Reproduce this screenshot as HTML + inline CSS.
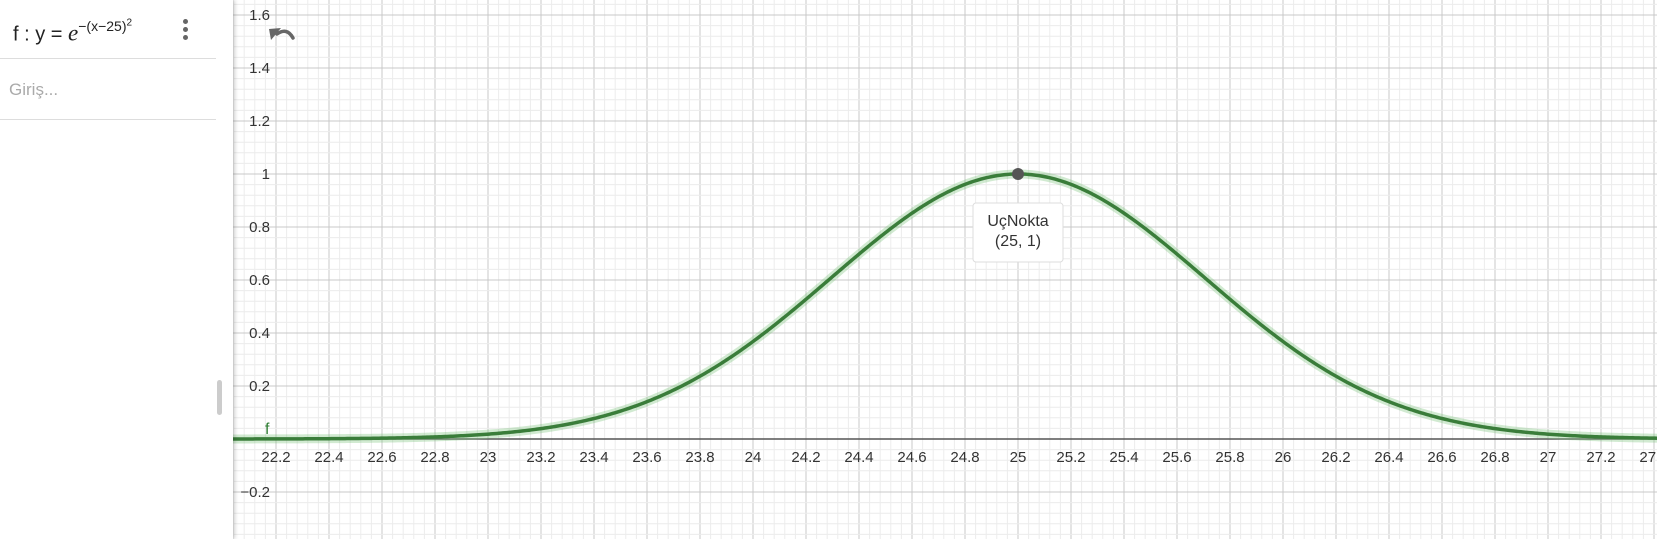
<!DOCTYPE html>
<html><head><meta charset="utf-8"><style>
html,body{margin:0;padding:0;width:1657px;height:539px;overflow:hidden;background:#fff;font-family:"Liberation Sans",sans-serif}
#panel{position:absolute;left:0;top:0;width:233px;height:539px;background:#fff;box-shadow:2px 0 4px rgba(0,0,0,0.18);z-index:2}
</style></head><body>
<div id="panel">
  <div style="position:absolute;left:0;top:0;width:216px;height:58px;border-bottom:1px solid #ddd">
    <div style="position:absolute;left:13px;top:19px;font-size:20px;color:#222;white-space:nowrap">f : y = <i style="font-family:'Liberation Serif',serif;font-size:23px">e</i><sup style="font-size:14px;position:relative;top:-2px">−(x−25)<sup style="font-size:10px">2</sup></sup></div>
    <div style="position:absolute;left:183px;top:19px;width:6px">
      <div style="width:5px;height:5px;border-radius:50%;background:#666;margin-bottom:3px"></div>
      <div style="width:5px;height:5px;border-radius:50%;background:#666;margin-bottom:3px"></div>
      <div style="width:5px;height:5px;border-radius:50%;background:#666"></div>
    </div>
  </div>
  <div style="position:absolute;left:0;top:59px;width:216px;height:60px;border-bottom:1px solid #ddd">
    <div style="position:absolute;left:9px;top:21px;font-size:17px;color:#aaa">Giriş...</div>
  </div>
  <div style="position:absolute;left:217px;top:380px;width:5px;height:35px;background:#ccc;border-radius:3px"></div>
</div>
<svg id="chart" width="1657" height="539" style="position:absolute;left:0;top:0"></svg>
<script>
const mu=[25];
const peakLabel=["UçNokta","(25, 1)"];
const xTicks=[22.2,22.4,22.6,22.8,23,23.2,23.4,23.6,23.8,24,24.2,24.4,24.6,24.8,25,25.2,25.4,25.6,25.8,26,26.2,26.4,26.6,26.8,27,27.2,27.4];
const yTicks=[-0.2,0.2,0.4,0.6,0.8,1,1.2,1.4,1.6];
const NS="http://www.w3.org/2000/svg";
const svg=document.getElementById('chart');
const S=265, X0=1018, Y0=439;
const sx=v=>X0+(v-25)*S, sy=v=>Y0-v*S;
function el(t,a,p){const e=document.createElementNS(NS,t);for(const k in a)e.setAttribute(k,a[k]);(p||svg).appendChild(e);return e;}
const xmin=(233-X0)/S+25, xmax=(1657-X0)/S+25, ymin=-(539-Y0)/S, ymax=Y0/S;
const grid=el('g',{});


for(let i=Math.ceil(xmin/0.04);i*0.04<=xmax;i++){const v=i*0.04;const major=i%5===0;
 el('line',{x1:sx(v),x2:sx(v),y1:0,y2:539,stroke:major?'#c8c8c8':'#ececec','stroke-width':1},grid);}
for(let i=Math.ceil(ymin/0.04);i*0.04<=ymax;i++){const v=i*0.04;const major=i%5===0;
 el('line',{x1:233,x2:1657,y1:sy(v),y2:sy(v),stroke:major?'#c8c8c8':'#ececec','stroke-width':1},grid);}
const ax=el('line',{x1:233,x2:1657,y1:Y0,y2:Y0,stroke:'#555','stroke-width':1.5});


xTicks.forEach(v=>{const t=el('text',{x:sx(v),y:Y0+23,'text-anchor':'middle','font-size':15,fill:'#333'});t.textContent=String(v);
 
 });
yTicks.forEach(v=>{const t=el('text',{x:270,y:sy(v)+5,'text-anchor':'end','font-size':15,fill:'#333'});t.textContent=v<0?'\u2212'+Math.abs(v):String(v);
 
 });
let d='';for(let px=233;px<=1657;px+=2){const x=(px-X0)/S+25;const y=Math.exp(-Math.pow(x-mu[0],2));d+=(px===233?'M':'L')+px+','+sy(y).toFixed(2);}
const halo=el('path',{d:d,fill:'none',stroke:'#7cc47c','stroke-width':9,'stroke-opacity':0.35});


const curve=el('path',{d:d,fill:'none',stroke:'#3a7d3a','stroke-width':3.5});


const fl=el('text',{x:265,y:434,'font-size':16,fill:'#2e7d32'});fl.textContent='f';


const pt=el('circle',{cx:sx(mu[0]),cy:sy(1),r:6,fill:'#555'});


const tip=el('g',{});


el('rect',{x:sx(mu[0])-45,y:sy(1)+29,width:90,height:59,rx:3,fill:'#fff',stroke:'#ddd','stroke-width':1},tip);
peakLabel.forEach((s,i)=>{const t=el('text',{x:sx(mu[0]),y:sy(1)+52+i*20,'text-anchor':'middle','font-size':16,fill:'#333'},tip);t.textContent=s;});
const undo=el('g',{});


el('path',{d:'M277,34 Q287,27 293,38',fill:'none',stroke:'#666','stroke-width':3.5,'stroke-linecap':'round'},undo);
el('path',{d:'M269,29 L281,28 L271,40 Z',fill:'#666'},undo);
</script>
</body></html>
